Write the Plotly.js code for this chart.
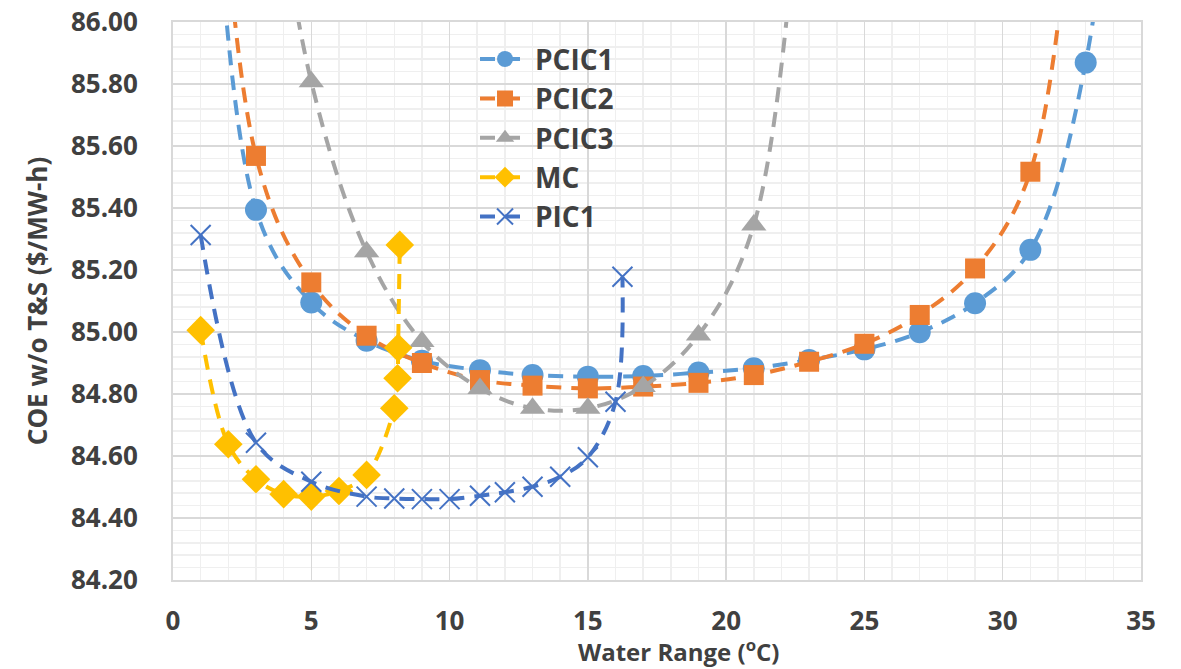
<!DOCTYPE html>
<html>
<head>
<meta charset="utf-8">
<script src="https://cdn.plot.ly/plotly-3.0.1.min.js"></script>
<style>html,body{margin:0;padding:0;background:#fff;}#chart{width:1181px;height:669px;}</style>
</head>
<body>
<div id="chart"></div>
<script>
// Data (points above 86.00 lie off the visible range)
const pcic1X = [1, 3, 5, 7, 9, 11.1, 13, 15, 17, 19, 21, 23, 25, 27, 29, 31, 33, 35];
const pcic1Y = [87.6, 85.394, 85.095, 84.972, 84.907, 84.877, 84.861, 84.856, 84.858, 84.869, 84.883, 84.910, 84.944, 84.999, 85.093, 85.265, 85.869, 87.6];

const pcic2X = [1, 3, 5, 7, 9, 11.1, 13, 15, 17, 19, 21, 23, 25, 27, 29, 31, 33];
const pcic2Y = [87.8, 85.568, 85.160, 84.988, 84.900, 84.845, 84.827, 84.818, 84.824, 84.836, 84.861, 84.904, 84.962, 85.055, 85.205, 85.517, 87.0];

const pcic3X = [3, 5, 7, 9, 11.1, 13, 15, 17, 19, 21, 23];
const pcic3Y = [86.9, 85.807, 85.259, 84.969, 84.818, 84.754, 84.754, 84.824, 84.990, 85.345, 86.9];

const mcX = [1, 2, 3, 4, 5, 6, 7, 8, 8.12, 8.14, 8.2];
const mcY = [85.006, 84.638, 84.525, 84.477, 84.469, 84.487, 84.539, 84.754, 84.851, 84.949, 85.281];

const pic1X = [1, 3, 5, 7, 8, 9, 10, 11.1, 12, 13, 14, 15, 16, 16.25];
const pic1Y = [85.313, 84.643, 84.517, 84.469, 84.463, 84.461, 84.461, 84.472, 84.483, 84.501, 84.533, 84.596, 84.775, 85.178];

const seriesNames = ['PCIC1', 'PCIC2', 'PCIC3', 'MC', 'PIC1'];
const seriesColors = ['#5B9BD5', '#ED7D31', '#A5A5A5', '#FFC000', '#4472C4'];
const xTitle = 'Water Range (<sup>o</sup>C)';
const yTitle = 'COE w/o T&amp;S ($/MW-h)';

const FONT = 'Open Sans, Lato, DejaVu Sans, sans-serif';
const TXT = '#404040';
const DASH = '15px,10px';

function mk(x, y, i, symbol, size, extra) {
  return {
    type: 'scatter', mode: 'lines+markers', name: seriesNames[i], x: x, y: y,
    line: {color: seriesColors[i], width: 4, dash: DASH, shape: 'spline', smoothing: 1},
    marker: Object.assign({color: seriesColors[i], symbol: symbol, size: size, line: {width: 0}}, extra || {}),
    cliponaxis: true
  };
}

const traces = [
  mk(pcic1X, pcic1Y, 0, 'circle', 22),
  mk(pcic2X, pcic2Y, 1, 'square', 20),
  mk(pcic3X, pcic3Y, 2, 'triangle-up', 22),
  mk(mcX, mcY, 3, 'diamond', 22),
  mk(pic1X, pic1Y, 4, 'x-thin', 20, {line: {width: 2, color: seriesColors[4]}})
];

const layout = {
  width: 1181, height: 669,
  margin: {l: 173, r: 40, t: 22, b: 89},
  paper_bgcolor: '#ffffff', plot_bgcolor: '#ffffff',
  font: {family: FONT, color: TXT},
  showlegend: true,
  legend: {
    x: 0.312, y: 0.978, xanchor: 'left', yanchor: 'top',
    bgcolor: 'rgba(0,0,0,0)', borderwidth: 0,
    font: {family: FONT, size: 28, color: TXT, weight: 700},
    itemwidth: 50, tracegroupgap: 0
  },
  xaxis: {
    range: [0, 35], tick0: 0, dtick: 5, tickmode: 'linear',
    showgrid: true, gridcolor: '#d9d9d9', gridwidth: 1.5,
    minor: {dtick: 1, showgrid: true, gridcolor: '#efefef', gridwidth: 1.5},
    showline: true, linecolor: '#d9d9d9', linewidth: 2, mirror: true,
    zeroline: false, ticks: '',
    ticklabelstandoff: 17,
    tickfont: {family: FONT, size: 26, color: TXT, weight: 700}
  },
  yaxis: {
    range: [84.2, 86.0], tick0: 84.2, dtick: 0.2, tickmode: 'linear', tickformat: '.2f',
    showgrid: true, gridcolor: '#d9d9d9', gridwidth: 1.5,
    minor: {dtick: 0.04, showgrid: true, gridcolor: '#efefef', gridwidth: 1.5},
    showline: true, linecolor: '#d9d9d9', linewidth: 2, mirror: true,
    zeroline: false, ticks: '',
    ticklabelstandoff: 28,
    tickfont: {family: FONT, size: 26, color: TXT, weight: 700},
    title: {text: yTitle, font: {family: FONT, size: 26, color: TXT, weight: 700}, standoff: 16}
  },
  annotations: [{
    text: xTitle, xref: 'paper', yref: 'paper', x: 0.522, y: -0.1605,
    xanchor: 'center', yanchor: 'bottom', showarrow: false,
    font: {family: FONT, size: 24, color: TXT, weight: 700}
  }]
};

Plotly.newPlot('chart', traces, layout, {displayModeBar: false, staticPlot: true});
</script>
</body>
</html>
